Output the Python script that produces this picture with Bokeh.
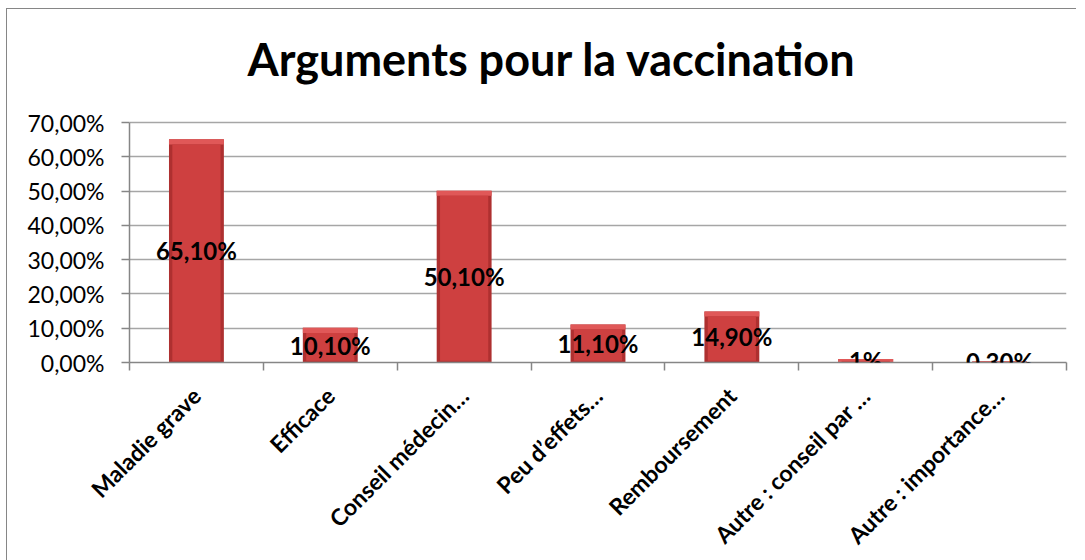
from math import pi
from bokeh.plotting import figure
from bokeh.models import Range1d, FixedTicker, ColumnDataSource, Title, Label
from bokeh.embed import file_html
from bokeh.resources import INLINE

# ---- data ----
categories = ["Maladie grave", "Efficace", "Conseil médecin…", "Peu d’effets…",
              "Remboursement", "Autre : conseil par …", "Autre : importance…"]
values = [65.1, 10.1, 50.1, 11.1, 14.9, 1.0, 0.3]
value_labels = ["65,10%", "10,10%", "50,10%", "11,10%", "14,90%", "1%", "0,30%"]
y_ticks = [0, 10, 20, 30, 40, 50, 60, 70]
y_tick_labels = ["0,00%", "10,00%", "20,00%", "30,00%", "40,00%", "50,00%", "60,00%", "70,00%"]
title_text = "Arguments pour la vaccination"

y_max = 70
axis_px = 240          # pixel height of the 0..70 axis
head_px = 22           # free space above the 70% gridline inside the frame
frame_h = axis_px + head_px

xs = [i + 0.5 for i in range(len(categories))]
bw = 0.41
bevel_y = 1.5
bevel_x = 0.025
src = ColumnDataSource(dict(
    x=xs, top=values, lab=value_labels,
    mid=[v / 2 for v in values],
    bev_bottom=[max(v - bevel_y, 0) for v in values],
    body_bottom=[min(0.5, v) for v in values],
))

p = figure(frame_width=937, frame_height=frame_h, output_backend="svg", toolbar_location=None,
           x_range=Range1d(0, len(categories)),
           y_range=Range1d(0, y_max * frame_h / axis_px),
           min_border_left=122, min_border_right=10, min_border_top=91,
           min_border_bottom=190)
p.outline_line_color = None
p.background_fill_color = "white"
p.border_fill_color = "white"
p.styles = {"border-left": "1px solid #868686", "border-top": "1px solid #868686",
            "margin-left": "6px", "margin-top": "8px"}

t = Title(text=title_text, align="left", offset=118, text_font="Lato",
          text_font_style="bold", text_font_size="45px", text_color="black", standoff=30)
p.add_layout(t, "above")

# bars (bevelled look)
p.vbar(x="x", width=bw, top="top", bottom=0, source=src,
       fill_color="#AE3030", line_color=None)
p.vbar(x="x", width=bw, top="top", bottom="bev_bottom", source=src,
       fill_color="#E05858", line_color=None)
p.vbar(x="x", width=bw - 2 * bevel_x, top="bev_bottom", bottom="body_bottom", source=src,
       fill_color="#CE4040", line_color=None)

for xv, mv, lab in zip(xs, src.data["mid"], value_labels):
    p.add_layout(Label(x=xv, y=mv, text=lab, text_align="center", text_baseline="middle",
                       text_font="Lato", text_font_style="bold", text_font_size="24px",
                       text_color="black"))

# y axis
p.yaxis.ticker = FixedTicker(ticks=y_ticks)
p.yaxis.bounds = (0, y_max)
p.yaxis.major_label_overrides = {t_: l for t_, l in zip(y_ticks, y_tick_labels)}
p.yaxis.major_label_text_font = "Lato"
p.yaxis.major_label_text_font_size = "23px"
p.yaxis.major_label_text_color = "black"
p.yaxis.axis_line_color = "#868686"
p.yaxis.axis_line_width = 1.5
p.yaxis.major_tick_line_color = "#868686"
p.yaxis.major_tick_line_width = 1.5
p.yaxis.major_tick_out = 8
p.yaxis.major_tick_in = 0
p.yaxis.minor_tick_line_color = None
p.yaxis.major_label_standoff = 17

p.ygrid.ticker = FixedTicker(ticks=y_ticks)
p.ygrid.grid_line_color = "#A6A6A6"
p.ygrid.grid_line_width = 1.5
p.xgrid.grid_line_color = None

# x axis: labels at centres, tick marks at boundaries (minor ticks)
p.xaxis.ticker = FixedTicker(ticks=xs, minor_ticks=list(range(len(categories) + 1)))
p.xaxis.major_label_overrides = {x: c for x, c in zip(xs, categories)}
p.xaxis.major_label_orientation = pi / 4
p.xaxis.major_label_text_font = "Lato"
p.xaxis.major_label_text_font_style = "bold"
p.xaxis.major_label_text_font_size = "23px"
p.xaxis.major_label_text_color = "black"
p.xaxis.major_tick_line_color = None
p.xaxis.minor_tick_line_color = "#868686"
p.xaxis.minor_tick_line_width = 1.5
p.xaxis.minor_tick_out = 8
p.xaxis.minor_tick_in = 0
p.xaxis.axis_line_color = "#868686"
p.xaxis.axis_line_width = 1.5
p.xaxis.major_label_standoff = 21

open("out.html", "w").write(file_html(p, INLINE))
